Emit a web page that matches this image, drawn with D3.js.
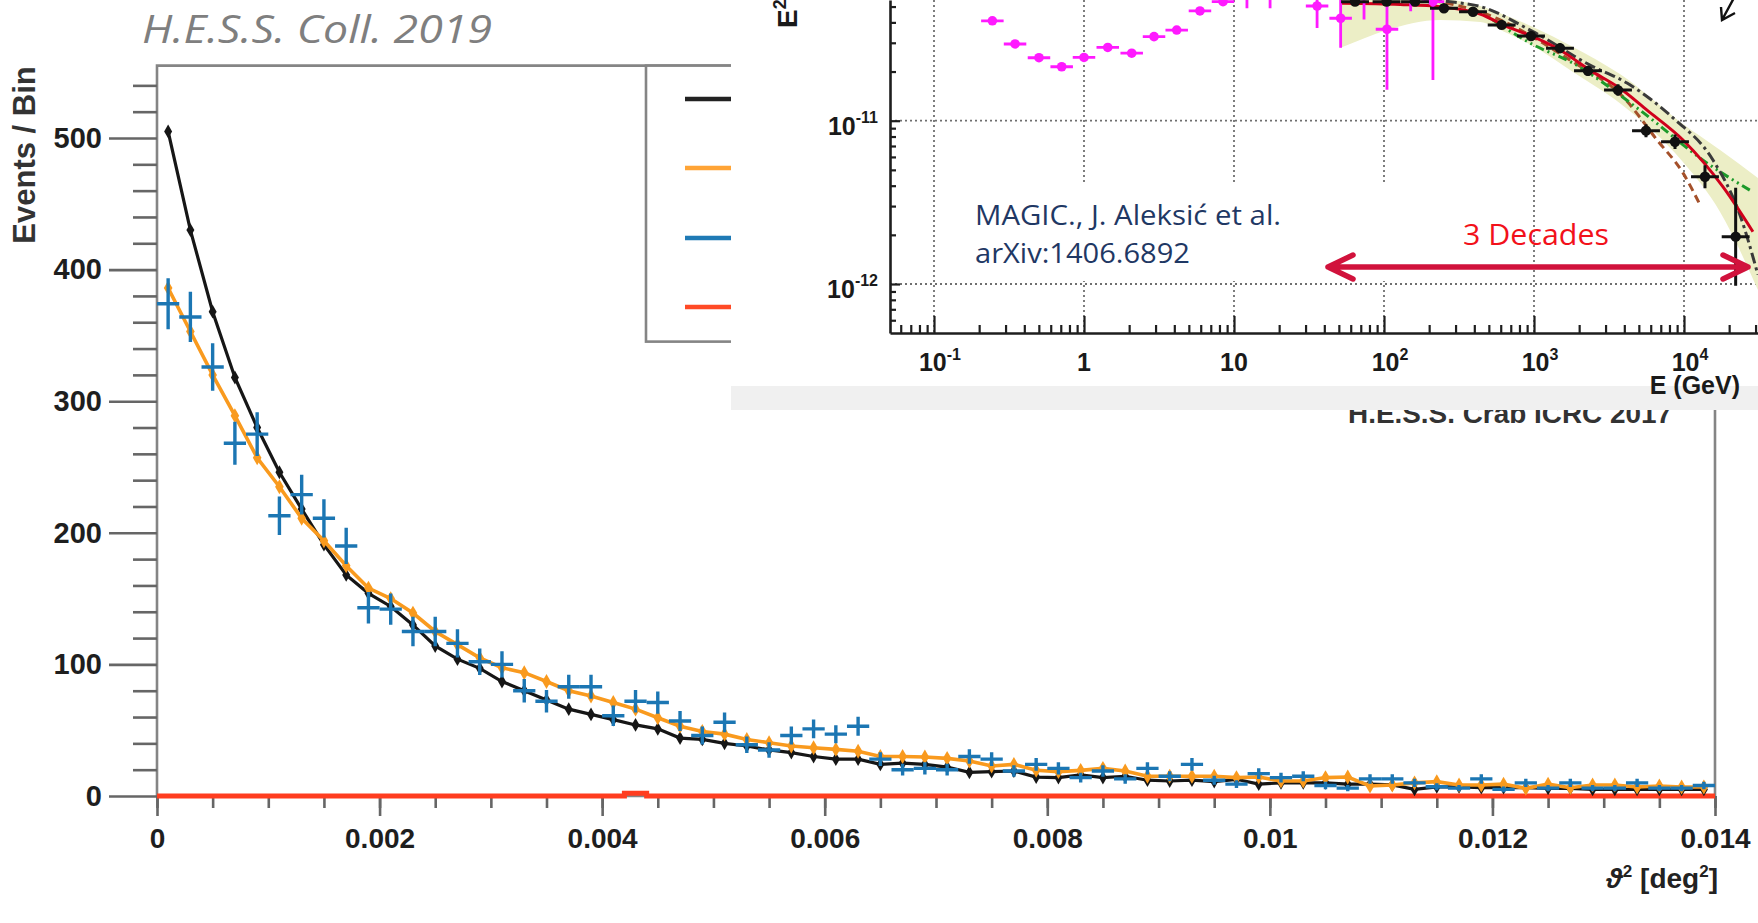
<!DOCTYPE html>
<html>
<head>
<meta charset="utf-8">
<script src="https://cdn.jsdelivr.net/npm/d3@7"></script>
<style>
  body { margin: 0; background: #fff; }
  svg { display: block; }
</style>
</head>
<body>
<svg id="chart"></svg>
<script>
// ---------- theta^2 distribution (bins of 0.0002 deg^2) ----------
const binWidth = 0.0002;
const thetaTicks = [0, 0.002, 0.004, 0.006, 0.008, 0.01, 0.012, 0.014];
const countTicks = [0, 100, 200, 300, 400, 500];

// simulated PSF (black)
const simCounts = [505,430,368,318,280,246,218,191,168,154,
  144,130,114,104,97,87,80,73,66,62,
  58,54,51,44,43,40,38,35,33,30,
  28,28,24,25,24,22,18,18.5,19,14.4,
  14,16,14,15,12,11.4,12,11,12.7,9,
  10,10,10,9,9,8.4,5,7,7,6.3,
  6.3,6.3,5.8,5.8,5,5,5,5,5,5];
// fitted PSF model (orange)
const fitCounts = [386,353,320,289,257,235,211,194,175,158,
  150,139,125,115,105,97.5,93.7,87,80,76,
  71,66,59.5,53,49,47,43,40.5,38,36.7,
  35.4,34,30,30,29.6,28.6,26.6,22.8,24,19.5,
  18.5,19.5,21,19,15,15,15,15,14,14.4,
  11.4,11.4,14,14.4,7.6,8.4,10,10.9,8.4,8.4,
  9,5.8,9,6.3,8.4,8.4,6.8,7.6,6.8,6.8];
// measured excess events (blue)
const excessCounts = [374,364,326,268,275,213,229,211,190,143,
  142,125,125,116,102,100,80,72,83,83,
  61,72,71,57,46,56,39,35,46,51,
  47,53,28,20,21,20,30,28,19,24,
  21,14,19,13,21,15,24,12,9,17,
  14,15,8,6,13,13,10,7,6,13,
  5,10,6,10,6,6,10,6,6,8];
// background (red)
const backgroundCounts = [0,0,0,0,0,0,0,0,0,0,
  0,0,0,0,0,0,0,0,0,0,
  0,2,0,0,0,0,0,0,0,0,
  0,0,0,0,0,0,0,0,0,0,
  0,0,0,0,0,0,0,0,0,0,
  0,0,0,0,0,0,0,0,0,0,
  0,0,0,0,0,0,0,0,0,0];

// ---------- Crab SED (E in GeV, E^2 dN/dE in TeV cm^-2 s^-1) ----------
const fermiE = [0.245,0.347,0.501,0.71,1.0,1.44,2.08,2.93,4.15,5.93,8.45,12.2,17.4,35.8,51.4,73.6,104.7,150.6,212];
const fermiF = [4.09e-11,2.95e-11,2.43e-11,2.14e-11,2.44e-11,2.81e-11,2.59e-11,3.27e-11,3.59e-11,4.70e-11,5.36e-11,6.14e-11,6.14e-11,5.04e-11,4.24e-11,5.89e-11,3.63e-11,5.89e-11,5.36e-11];
const fermiErrLoDex = [0.02,0.02,0.02,0.02,0.02,0.02,0.02,0.02,0.02,0.02,0.02,0.1,0.1,0.135,0.18,0.15,0.37,0.1,0.48];
const fermiErrHiDex = [0.02,0.02,0.02,0.02,0.02,0.02,0.02,0.02,0.02,0.02,0.02,0.1,0.1,0.2,0.18,0.15,0.37,0.1,0.48];

const magicE = [64.1,104,161,251,392,609,955,1490,2290,3630,5580,8710,13800,22100];
const magicF = [5.36e-11,5.36e-11,5.36e-11,4.88e-11,4.65e-11,3.86e-11,3.30e-11,2.78e-11,2.02e-11,1.54e-11,8.69e-12,7.43e-12,4.54e-12,1.95e-12];
const magicErrDex = [0.02,0.02,0.02,0.02,0.02,0.025,0.025,0.03,0.03,0.035,0.04,0.045,0.07,0.3];

const fitE = [52.5,128,236,437,661,985,1490,2360,3740,5670,9840,18200,28800];
const fitF = [5.24e-11,5.15e-11,4.99e-11,4.50e-11,3.77e-11,3.27e-11,2.71e-11,2.04e-11,1.58e-11,1.16e-11,7.62e-12,3.93e-12,2.09e-12];
const altE = [94,392,985,2360,4170,8450,15600,23600,31100];
const altF = [5.71e-11,5.12e-11,3.51e-11,2.19e-11,1.70e-11,1.04e-11,5.74e-12,2.65e-12,1.14e-12];
const greenE = [533,940,1820,5090,14200,28800];
const greenF = [4.14e-11,2.99e-11,2.25e-11,1.16e-11,5.51e-12,3.66e-12];
const brownE = [212,437,1820,3920,6610,9840,12800];
const brownF = [5.45e-11,4.64e-11,2.29e-11,1.40e-11,7.62e-12,4.79e-12,3.05e-12];
const bandE = [50.9,74.7,104.7,236,437,661,985,1820,3740,9840,17400,31100];
const bandHi = [5.89e-11,5.89e-11,5.89e-11,5.64e-11,5.04e-11,4.38e-11,3.75e-11,2.83e-11,1.93e-11,9.55e-12,6.62e-12,4.46e-12];
const bandLo = [2.79e-11,3.21e-11,3.59e-11,4.14e-11,4.02e-11,3.44e-11,2.87e-11,1.99e-11,1.28e-11,5.58e-12,2.76e-12,9.19e-13];

const sedXDecades = [0.1, 1, 10, 100, 1000, 10000];
const sedXLabels = [["10","-1"],["1",""],["10",""],["10","2"],["10","3"],["10","4"]];
const sedYDecades = [1e-12, 1e-11];
const sedYLabels = [["10","-12"],["10","-11"]];

// ---------- drawing ----------
const W = 1758, H = 923;
const svg = d3.select("#chart").attr("width", W).attr("height", H);
svg.append("rect").attr("width", W).attr("height", H).attr("fill", "#fff");

const SANS = "'Liberation Sans', Arial, Helvetica, sans-serif";
const SOFT = "'Open Sans', 'Noto Sans', sans-serif";

const x = d3.scaleLinear().domain([0, 0.014]).range([157, 1715]);
const y = d3.scaleLinear().domain([0, 500]).range([796, 138]);
const yMax = 555;
const centers = d3.range(excessCounts.length).map(i => (i + 0.5) * binWidth);

const main = svg.append("g");

// frame
main.append("path")
  .attr("d", `M${x(0)},${y(0)}V${y(yMax)}H${x(0.014)}V${y(0)}H${x(0)}`)
  .attr("fill", "none").attr("stroke", "#858585").attr("stroke-width", 2.6);

// legend box
main.append("rect")
  .attr("x", 646).attr("y", y(yMax)).attr("width", 1100).attr("height", 276)
  .attr("fill", "#fff").attr("stroke", "#858585").attr("stroke-width", 2.6);
const legendSeries = [
  { color: "#222", y: 99 }, { color: "#ffa436", y: 168 },
  { color: "#1f7ab5", y: 238 }, { color: "#ff4a26", y: 307 }
];
main.selectAll(".leg").data(legendSeries).join("line")
  .attr("x1", 685).attr("x2", 800).attr("y1", d => d.y).attr("y2", d => d.y)
  .attr("stroke", d => d.color).attr("stroke-width", 4.5);

// y axis
const styleAxis = (g, size) => {
  g.select(".domain").remove();
  g.selectAll("line").attr("stroke", "#666").attr("stroke-width", 2.6);
  g.selectAll("text").attr("fill", "#1e1e1e").style("font-family", SANS)
    .style("font-weight", "bold").style("font-size", size + "px");
};
main.append("g").attr("transform", `translate(${x(0)},0)`)
  .call(d3.axisLeft(y).tickValues(d3.range(0, 541, 20).filter(v => v % 100 !== 0))
    .tickSize(24).tickSizeOuter(0).tickFormat(""))
  .call(g => styleAxis(g, 29));
main.append("g").attr("transform", `translate(${x(0)},0)`)
  .call(d3.axisLeft(y).tickValues(countTicks).tickSize(48).tickPadding(7).tickSizeOuter(0))
  .call(g => styleAxis(g, 29));

// x axis
main.append("g").attr("transform", `translate(0,${y(0)})`)
  .call(d3.axisBottom(x).tickValues(d3.range(0, 29).map(i => i * 0.0005))
    .tickSize(12).tickSizeOuter(0).tickFormat(""))
  .call(g => styleAxis(g, 28));
main.append("g").attr("transform", `translate(0,${y(0)})`)
  .call(d3.axisBottom(x).tickValues(thetaTicks).tickSize(20).tickPadding(12)
    .tickSizeOuter(0).tickFormat(d3.format("~g")))
  .call(g => styleAxis(g, 28));

// axis titles
main.append("text")
  .attr("transform", "translate(35,155) rotate(-90)")
  .attr("text-anchor", "middle")
  .style("font-family", SANS).style("font-weight", "bold").style("font-size", "31px")
  .attr("fill", "#333").text("Events / Bin");

const xt = main.append("text").attr("x", 1718).attr("y", 888).attr("text-anchor", "end")
  .style("font-family", SANS).style("font-weight", "bold").style("font-size", "28px").attr("fill", "#222");
xt.append("tspan").style("font-style", "italic").text("ϑ");
xt.append("tspan").attr("dy", -11).style("font-size", "17px").text("2");
xt.append("tspan").attr("dy", 11).text(" [deg");
xt.append("tspan").attr("dy", -11).style("font-size", "17px").text("2");
xt.append("tspan").attr("dy", 11).text("]");

// background histogram
const stepPts = [[0, backgroundCounts[0]]]
  .concat(centers.map((c, i) => [c, backgroundCounts[i]]))
  .concat([[0.014, backgroundCounts[backgroundCounts.length - 1]]]);
main.append("path")
  .attr("d", d3.line().x(d => x(d[0])).y(d => y(d[1])).curve(d3.curveStep)(stepPts))
  .attr("fill", "none").attr("stroke", "#ff3d1f").attr("stroke-width", 5);

// simulated PSF
const lineGen = d3.line().x((d, i) => x(centers[i])).y(d => y(d));
main.append("path").attr("d", lineGen(simCounts))
  .attr("fill", "none").attr("stroke", "#161616").attr("stroke-width", 3.2);
main.selectAll(".simPt").data(simCounts).join("path")
  .attr("transform", (d, i) => `translate(${x(centers[i])},${y(d)})`)
  .attr("d", d3.symbol(d3.symbolDiamond, 55)).attr("fill", "#161616");

// fitted model
main.append("path").attr("d", lineGen(fitCounts))
  .attr("fill", "none").attr("stroke", "#f99a1e").attr("stroke-width", 3.6);
main.selectAll(".fitPt").data(fitCounts).join("path")
  .attr("transform", (d, i) => `translate(${x(centers[i])},${y(d)})`)
  .attr("d", d3.symbol(d3.symbolDiamond, 64)).attr("fill", "#f99a1e");

// measured excess with Poisson errors
main.selectAll(".exc").data(excessCounts).join("path")
  .attr("d", (d, i) => {
    const c = centers[i], e = Math.sqrt(d);
    return `M${x(c - binWidth / 2)},${y(d)}H${x(c + binWidth / 2)}` +
           `M${x(c)},${y(d + e)}V${y(Math.max(0, d - e))}`;
  })
  .attr("fill", "none").attr("stroke", "#1b76b3").attr("stroke-width", 3.4);

// figure label underneath the SED panel
main.append("text").attr("x", 1672).attr("y", 423).attr("text-anchor", "end")
  .attr("textLength", 324).attr("lengthAdjust", "spacingAndGlyphs")
  .style("font-family", SANS).style("font-weight", "bold").style("font-size", "27px")
  .attr("fill", "#333").text("H.E.S.S. Crab ICRC 2017");

// title
svg.append("text").attr("x", 142).attr("y", 43)
  .attr("textLength", 350).attr("lengthAdjust", "spacingAndGlyphs")
  .style("font-family", SOFT).style("font-style", "italic").style("font-size", "39px")
  .attr("fill", "#7f7f7f").text("H.E.S.S. Coll. 2019");

// ---------- SED panel ----------
const sed = svg.append("g");
sed.append("rect").attr("x", 731).attr("y", 0).attr("width", W - 731).attr("height", 410).attr("fill", "#fff");
sed.append("rect").attr("x", 731).attr("y", 386).attr("width", W - 731).attr("height", 24).attr("fill", "#f0f0f0");

const PL = 890, PB = 333, PR = W, PT = 0;
const ix = d3.scaleLog().domain([0.1, 1e4]).range([934, 1684]);
const iy = d3.scaleLog().domain([1e-12, 1e-11]).range([284, 120.7]);
const ixAxis = ix.copy().domain([ix.invert(PL), ix.invert(PR)]).range([PL, PR]);
const iyAxis = iy.copy().domain([iy.invert(PB), iy.invert(PT)]).range([PB, PT]);
const isDecade = v => Math.abs(Math.log10(v) - Math.round(Math.log10(v))) < 1e-9;

svg.append("defs").append("clipPath").attr("id", "sedClip")
  .append("rect").attr("x", PL).attr("y", PT).attr("width", PR - PL).attr("height", PB - PT);

// dotted grid
const grid = sed.append("g").attr("stroke", "#6f6f6f").attr("stroke-width", 1.8)
  .attr("stroke-dasharray", "2,3");
grid.selectAll(".gx").data(sedXDecades).join("line")
  .attr("x1", d => ix(d)).attr("x2", d => ix(d)).attr("y1", PT).attr("y2", PB);
grid.selectAll(".gy").data(sedYDecades).join("line")
  .attr("x1", PL).attr("x2", PR).attr("y1", d => iy(d)).attr("y2", d => iy(d));

// reference note box (hides the grid behind the text)
sed.append("rect").attr("x", 952).attr("y", 182).attr("width", 500).attr("height", 99).attr("fill", "#fff");

const plot = sed.append("g").attr("clip-path", "url(#sedClip)");

// uncertainty band
plot.append("path")
  .attr("d", d3.area().x(d => ix(d[0])).y0(d => iy(d[1])).y1(d => iy(d[2]))
    .curve(d3.curveMonotoneX)(d3.zip(bandE, bandLo, bandHi)))
  .attr("fill", "#eceec6").attr("stroke", "none");

const sedLine = d3.line().x(d => ix(d[0])).y(d => iy(d[1])).curve(d3.curveMonotoneX);
plot.append("path").attr("d", sedLine(d3.zip(brownE, brownF)))
  .attr("fill", "none").attr("stroke", "#a4502a").attr("stroke-width", 3).attr("stroke-dasharray", "8,5");
plot.append("path").attr("d", sedLine(d3.zip(greenE, greenF)))
  .attr("fill", "none").attr("stroke", "#1d9a2a").attr("stroke-width", 3).attr("stroke-dasharray", "9,4,2,4,2,4");
plot.append("path").attr("d", sedLine(d3.zip(altE, altF)))
  .attr("fill", "none").attr("stroke", "#3a3a3a").attr("stroke-width", 3).attr("stroke-dasharray", "11,4,3,4");
plot.append("path").attr("d", sedLine(d3.zip(fitE, fitF)))
  .attr("fill", "none").attr("stroke", "#d0001c").attr("stroke-width", 3);

// Fermi-LAT points
const fermiHalf = 0.075;
const fermiPts = d3.zip(fermiE, fermiF, fermiErrLoDex, fermiErrHiDex);
plot.selectAll(".fb").data(fermiPts).join("path")
  .attr("d", d => `M${ix(d[0] / 10 ** fermiHalf)},${iy(d[1])}H${ix(d[0] * 10 ** fermiHalf)}` +
    `M${ix(d[0])},${iy(d[1] * 10 ** d[3])}V${iy(d[1] / 10 ** d[2])}`)
  .attr("fill", "none").attr("stroke", "#ff1aff").attr("stroke-width", 2.8);
plot.selectAll(".fp").data(fermiPts).join("circle")
  .attr("cx", d => ix(d[0])).attr("cy", d => iy(d[1])).attr("r", 4.8).attr("fill", "#ff1aff");

// MAGIC points
const magicHalf = 0.093;
const magicPts = d3.zip(magicE, magicF, magicErrDex);
plot.selectAll(".mb").data(magicPts).join("path")
  .attr("d", d => `M${ix(d[0] / 10 ** magicHalf)},${iy(d[1])}H${ix(d[0] * 10 ** magicHalf)}` +
    `M${ix(d[0])},${iy(d[1] * 10 ** d[2])}V${iy(d[1] / 10 ** d[2])}`)
  .attr("fill", "none").attr("stroke", "#111").attr("stroke-width", 3);
plot.selectAll(".mp").data(magicPts).join("circle")
  .attr("cx", d => ix(d[0])).attr("cy", d => iy(d[1])).attr("r", 5.2).attr("fill", "#111");

// axes
const allX = ixAxis.ticks().filter(t => ixAxis(t) >= PL && ixAxis(t) <= PR);
const allY = iyAxis.ticks().filter(t => iyAxis(t) <= PB && iyAxis(t) >= PT);
const axStyle = g => g.selectAll("line,path").attr("stroke", "#1e1e1e").attr("stroke-width", 2.2);
sed.append("g").attr("transform", `translate(0,${PB})`)
  .call(d3.axisBottom(ixAxis).tickValues(allX.filter(t => !isDecade(t))).tickSize(-8).tickSizeOuter(0).tickFormat(""))
  .call(axStyle).call(g => g.select(".domain").attr("stroke-width", 2.6));
sed.append("g").attr("transform", `translate(0,${PB})`)
  .call(d3.axisBottom(ixAxis).tickValues(allX.filter(isDecade)).tickSize(-17).tickSizeOuter(0).tickFormat(""))
  .call(axStyle).call(g => g.select(".domain").remove());
sed.append("g").attr("transform", `translate(${PL},0)`)
  .call(d3.axisLeft(iyAxis).tickValues(allY.filter(t => !isDecade(t))).tickSize(-6).tickSizeOuter(0).tickFormat(""))
  .call(axStyle).call(g => g.select(".domain").attr("stroke-width", 2.6));
sed.append("g").attr("transform", `translate(${PL},0)`)
  .call(d3.axisLeft(iyAxis).tickValues(allY.filter(isDecade)).tickSize(-10).tickSizeOuter(0).tickFormat(""))
  .call(axStyle).call(g => g.select(".domain").remove());

// tick labels with exponents
const powLabel = (sel, base, exp, supSize, rise) => {
  sel.append("tspan").text(base);
  if (exp) sel.append("tspan").attr("dy", -rise).style("font-size", supSize + "px").text(exp);
};
sed.selectAll(".xl").data(d3.zip(sedXDecades, sedXLabels)).join("text")
  .attr("x", d => ix(d[0]) + (d[1][1] ? 6 : 0)).attr("y", 371).attr("text-anchor", "middle")
  .style("font-family", SANS).style("font-weight", "bold").style("font-size", "25px").attr("fill", "#1a1a1a")
  .each(function (d) { powLabel(d3.select(this), d[1][0], d[1][1], 16, 11); });
sed.selectAll(".yl").data(d3.zip(sedYDecades, sedYLabels)).join("text")
  .attr("x", 878).attr("y", d => iy(d[0]) + 14).attr("text-anchor", "end")
  .style("font-family", SANS).style("font-weight", "bold").style("font-size", "25px").attr("fill", "#1a1a1a")
  .each(function (d) { powLabel(d3.select(this), d[1][0], d[1][1], 16, 12); });

sed.append("text").attr("x", 1740).attr("y", 394).attr("text-anchor", "end")
  .style("font-family", SANS).style("font-weight", "bold").style("font-size", "25px").attr("fill", "#1a1a1a")
  .text("E (GeV)");

const yl = sed.append("text").attr("transform", "translate(797,28) rotate(-90)")
  .style("font-family", SANS).style("font-weight", "bold").style("font-size", "28px").attr("fill", "#1a1a1a");
yl.append("tspan").text("E");
yl.append("tspan").attr("dy", -11).style("font-size", "18px").text("2");
yl.append("tspan").attr("dy", 11).text(" dN/dE");

// pointer arrow in the upper corner
sed.append("path").attr("d", "M1735,-4L1722,20M1721,7L1722,20L1735,13")
  .attr("fill", "none").attr("stroke", "#111").attr("stroke-width", 2.4);

// reference note
sed.append("text").attr("x", 975).attr("y", 225).attr("textLength", 306).attr("lengthAdjust", "spacingAndGlyphs")
  .style("font-family", SOFT).style("font-size", "27px").attr("fill", "#1f3864").text("MAGIC., J. Aleksić et al.");
sed.append("text").attr("x", 975).attr("y", 263).attr("textLength", 215).attr("lengthAdjust", "spacingAndGlyphs")
  .style("font-family", SOFT).style("font-size", "27px").attr("fill", "#1f3864").text("arXiv:1406.6892");

// energy span annotation: 50 GeV to 30 TeV
const spanLo = ix.invert(1328), spanHi = ix.invert(1748), spanY = 267;
sed.append("path")
  .attr("d", `M${ix(spanLo)},${spanY}H${ix(spanHi)}` +
    `M${ix(spanLo) + 25},${spanY - 12}L${ix(spanLo)},${spanY}L${ix(spanLo) + 25},${spanY + 12}` +
    `M${ix(spanHi) - 25},${spanY - 12}L${ix(spanHi)},${spanY}L${ix(spanHi) - 25},${spanY + 12}`)
  .attr("fill", "none").attr("stroke", "#d1123c").attr("stroke-width", 5.5)
  .attr("stroke-linecap", "round").attr("stroke-linejoin", "round");
sed.append("text").attr("x", 1463).attr("y", 245).attr("textLength", 146).attr("lengthAdjust", "spacingAndGlyphs")
  .style("font-family", SOFT).style("font-size", "30px").attr("fill", "#f2111a").text("3 Decades");
</script>
</body>
</html>
